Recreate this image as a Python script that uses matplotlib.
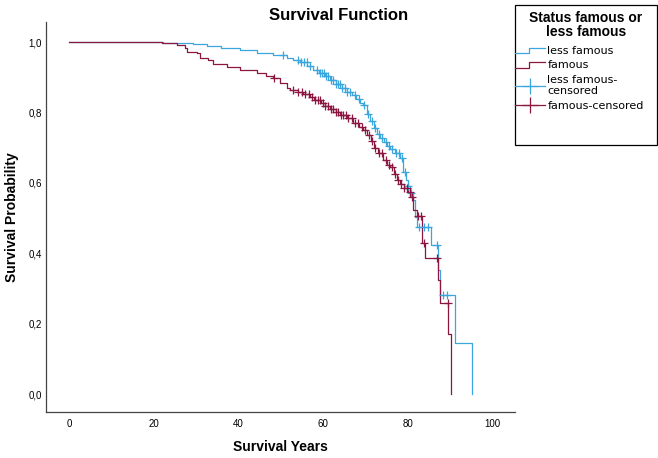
import matplotlib
matplotlib.use("Agg")
import matplotlib.pyplot as plt
import numpy as np
from matplotlib.legend_handler import HandlerBase
from matplotlib.lines import Line2D
from matplotlib.patches import Rectangle
from matplotlib.ticker import FuncFormatter

# Kaplan-Meier steps (time, survival after the step)
less_t = [0, 22.3, 29.4, 32.5, 36.0, 40.4, 44.4, 48.3, 51.5, 53.0, 54.6, 56.3,
          57.7, 59.0, 60.5, 61.7, 63.0, 64.5, 65.7, 66.8, 67.8, 68.8, 69.5,
          70.4, 71.2, 72.0, 72.8, 73.6, 74.5, 75.2, 75.9, 77.0, 78.2, 79.0,
          79.6, 80.0, 80.6, 81.3, 81.8, 82.3, 85.6, 87.3, 87.7, 91.2, 95.2]
less_s = [1.0, 0.997, 0.994, 0.989, 0.984, 0.977, 0.968, 0.962, 0.955, 0.949,
          0.942, 0.932, 0.922, 0.913, 0.903, 0.893, 0.882, 0.870, 0.858, 0.850,
          0.838, 0.828, 0.822, 0.795, 0.775, 0.757, 0.740, 0.728, 0.715, 0.705,
          0.697, 0.685, 0.672, 0.630, 0.608, 0.590, 0.570, 0.550, 0.503, 0.475,
          0.423, 0.352, 0.281, 0.145, 0.0]
less_cens = [50.6, 54.0, 54.8, 55.5, 56.2, 57.0, 58.6, 59.2, 59.8, 60.3, 60.8,
             61.3, 61.8, 62.4, 63.0, 63.5, 64.0, 64.6, 65.2, 65.8, 66.5, 67.5,
             68.6, 69.8, 70.6, 71.5, 72.4, 73.2, 74.0, 74.8, 75.6, 76.4, 77.3,
             78.0, 78.8, 79.4, 80.2, 80.8, 82.6, 83.8, 84.9, 86.9, 88.3, 89.4]

fam_t = [0, 21.9, 25.5, 27.4, 27.8, 30.2, 31.0, 32.9, 34.0, 37.3, 40.4, 44.4,
         46.5, 48.3, 49.9, 51.5, 52.2, 54.0, 55.4, 57.0, 58.0, 59.5, 60.5, 61.7,
         63.0, 64.0, 65.7, 67.2, 68.5, 69.5, 70.5, 71.3, 72.0, 73.0, 74.2, 75.2,
         75.9, 76.7, 77.5, 78.2, 79.2, 80.0, 80.6, 81.2, 82.3, 83.5, 84.2, 87.3,
         87.7, 89.6, 90.3]
fam_s = [1.0, 0.996, 0.991, 0.982, 0.971, 0.968, 0.956, 0.949, 0.939, 0.930,
         0.920, 0.911, 0.905, 0.897, 0.883, 0.870, 0.864, 0.857, 0.852, 0.844,
         0.836, 0.826, 0.817, 0.810, 0.800, 0.793, 0.784, 0.770, 0.760, 0.750,
         0.735, 0.718, 0.700, 0.685, 0.665, 0.652, 0.645, 0.625, 0.608, 0.598,
         0.585, 0.575, 0.560, 0.523, 0.505, 0.430, 0.386, 0.324, 0.258, 0.172,
         0.0]
fam_cens = [48.5, 53.0, 54.2, 55.0, 55.8, 56.8, 57.5, 58.2, 58.8, 59.4, 60.0,
            60.6, 61.2, 61.8, 62.4, 63.0, 63.6, 64.2, 64.8, 65.4, 66.0, 66.8,
            67.6, 68.4, 69.2, 70.0, 70.8, 71.6, 72.4, 73.2, 74.0, 74.8, 75.6,
            76.3, 77.0, 77.8, 78.5, 79.2, 79.9, 80.5, 81.0, 82.5, 83.2, 84.0,
            86.9, 89.5]

BLUE = "#3ba6de"
RED = "#8b1740"


def surv_at(times, surv, t):
    idx = np.searchsorted(times, t, side="right") - 1
    return np.asarray(surv)[idx]


class StepHandler(HandlerBase):
    def create_artists(self, legend, orig, xdescent, ydescent, width, height,
                       fontsize, trans):
        x0 = -xdescent
        xs = [x0, x0 + 0.45 * width, x0 + 0.45 * width, x0 + width]
        ys = [-ydescent + 0.1 * height, -ydescent + 0.1 * height,
              -ydescent + 0.8 * height, -ydescent + 0.8 * height]
        ln = Line2D(xs, ys, color=orig.get_color(), lw=orig.get_linewidth(),
                    transform=trans)
        return [ln]


plt.rcParams["font.family"] = ["Liberation Sans", "DejaVu Sans"]

fig = plt.figure(figsize=(6.58, 4.58), dpi=100)
W, H = 658, 458
ax = fig.add_axes([46 / W, 1 - 412 / H, (515 - 46) / W, (412 - 22) / H])

l1, = ax.step(less_t, less_s, where="post", color=BLUE, lw=0.9)
l2, = ax.step(fam_t, fam_s, where="post", color=RED, lw=0.9)
c1, = ax.plot(less_cens, surv_at(less_t, less_s, less_cens), "+", color=BLUE,
              ms=6, mew=0.9)
c2, = ax.plot(fam_cens, surv_at(fam_t, fam_s, fam_cens), "+", color=RED,
              ms=6, mew=0.9)

ax.set_xlim(-5.44, 105.4)
ax.set_ylim(-0.051, 1.057)
ax.set_xticks([0, 20, 40, 60, 80, 100])
ax.set_yticks([0.0, 0.2, 0.4, 0.6, 0.8, 1.0])
ax.yaxis.set_major_formatter(FuncFormatter(lambda v, _: f"{v:.1f}".replace(".", ",")))
ax.tick_params(axis="both", length=0, labelsize=7)
ax.tick_params(axis="x", pad=5)
ax.tick_params(axis="y", pad=3)
for side in ("top", "right"):
    ax.spines[side].set_visible(False)
for side in ("left", "bottom"):
    ax.spines[side].set_color("#444444")
    ax.spines[side].set_linewidth(0.9)

ax.set_xlabel("Survival Years", fontsize=10, fontweight="bold")
ax.set_ylabel("Survival Probability", fontsize=10, fontweight="bold")
ax.xaxis.set_label_coords(0.5, (412 - 440) / 390)
ax.yaxis.set_label_coords((19 - 46) / 469, 0.5)

fig.text(339 / W, 1 - 15 / H, "Survival Function", fontsize=12,
         fontweight="bold", ha="center", va="center")

# legend box
fig.patches.append(Rectangle((515 / W, 1 - 145 / H), 142 / W, 140 / H,
                             transform=fig.transFigure, fill=False,
                             edgecolor="black", lw=0.9))
fig.text(586 / W, 1 - 25 / H, "Status famous or\nless famous", fontsize=10,
         fontweight="bold", ha="center", va="center", linespacing=1.0)

h1 = Line2D([], [], color=BLUE, marker="+", ms=12, mew=0.9, lw=0.9)
h2 = Line2D([], [], color=RED, marker="+", ms=12, mew=0.9, lw=0.9)
leg = fig.legend([l1, l2, h1, h2],
                 ["less famous", "famous", "less famous-\ncensored", "famous-censored"],
                 loc="upper left", bbox_to_anchor=(515 / W, 1 - 46 / H),
                 frameon=False, borderpad=0, borderaxespad=0,
                 handlelength=2.7, handletextpad=0.2, labelspacing=0.4,
                 handler_map={l1: StepHandler(), l2: StepHandler()},
                 prop={"family": "DejaVu Sans", "size": 8})

fig.savefig("out.png", dpi=100)
